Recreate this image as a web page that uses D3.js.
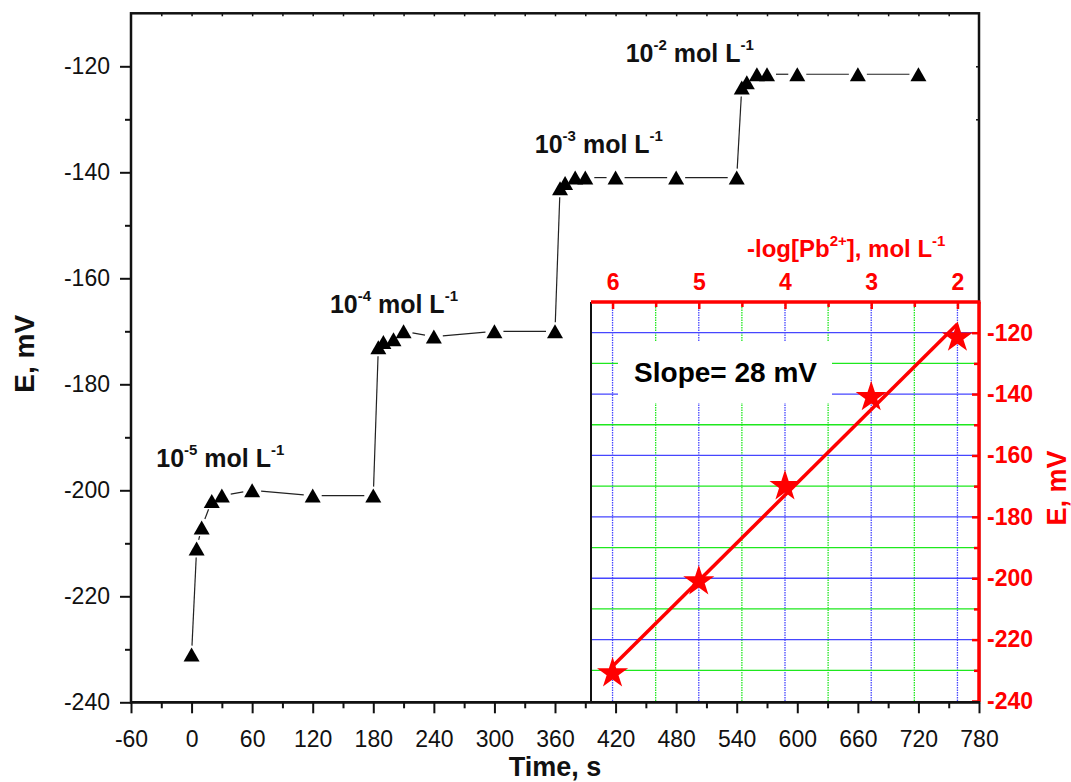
<!DOCTYPE html>
<html>
<head>
<meta charset="utf-8">
<script src="https://cdn.jsdelivr.net/npm/d3@7"></script>
<style>
  html, body { margin: 0; padding: 0; background: #fff; }
  svg { display: block; font-family: "Liberation Sans", Arial, sans-serif; }
</style>
</head>
<body>
<svg id="chart" width="1071" height="782"></svg>
<script>
// ---------------- DATA ----------------
// Main plot: potential-time response
const time = [0, 5, 10, 20, 30, 60, 120, 180,
              185, 190, 200, 210, 240, 300, 360,
              365, 370, 380, 390, 420, 480, 540,
              545, 550, 560, 570, 600, 660, 720];
const potential = [-231, -211, -207, -202, -201, -200, -201, -201,
                   -173, -172, -171.5, -170, -171, -170, -170,
                   -143, -142, -141, -141, -141, -141, -141,
                   -124, -123, -121.5, -121.5, -121.5, -121.5, -121.5];
const timeTicks = [-60, 0, 60, 120, 180, 240, 300, 360, 420, 480, 540, 600, 660, 720, 780];
const potentialTicks = [-240, -220, -200, -180, -160, -140, -120];
const concExponents = ["-5", "-4", "-3", "-2"];
// annotation anchors in data units (time, potential)
const concLabelTime = [-35, 137, 340, 430];
const concLabelE = [-195.6, -166.6, -136.4, -119.1];

// Inset: calibration
const pLog = [6, 5, 4, 3, 2];
const pE = [-231, -201, -170, -141, -121.6];
const pLogTicks = [6, 5, 4, 3, 2];
const insetETicks = [-240, -220, -200, -180, -160, -140, -120];
const slopeText = "Slope= 28 mV";

// ---------------- LAYOUT ----------------
const svg = d3.select("#chart");
const M = { left: 131, right: 979, top: 13.3, bottom: 702.3 };
const I = { left: 591, right: 979, top: 302, bottom: 701 };

const x = d3.scaleLinear().domain([-60, 780]).range([M.left, M.right]);
const y = d3.scaleLinear().domain([-240, -110]).range([M.bottom, M.top]);
const xi = d3.scaleLinear().domain([6.25, 1.75]).range([I.left, I.right]);
const yi = d3.scaleLinear().domain([-240, -110]).range([I.bottom, I.top]);

const FONT = "'Liberation Sans', Arial, sans-serif";
const fmt = d => String(d);

// ---------------- MAIN FRAME ----------------
svg.append("rect")
  .attr("x", M.left).attr("y", M.top)
  .attr("width", M.right - M.left).attr("height", M.bottom - M.top)
  .attr("fill", "none").attr("stroke", "#111").attr("stroke-width", 2.5);

function styleAxis(g, color, sw) {
  g.select(".domain").remove();
  g.selectAll(".tick line").attr("stroke", color).attr("stroke-width", sw);
}

// left axis (major + minor)
const yMinor = d3.range(-230, -110, 20);
svg.append("g").attr("transform", `translate(${M.left},0)`)
  .call(d3.axisLeft(y).tickValues(yMinor).tickSize(6).tickFormat(""))
  .call(g => styleAxis(g, "#111", 2));
svg.append("g").attr("transform", `translate(${M.left},0)`)
  .call(d3.axisLeft(y).tickValues(potentialTicks).tickSize(11).tickPadding(10).tickFormat(fmt))
  .call(g => styleAxis(g, "#111", 2))
  .call(g => g.selectAll("text").attr("font-size", 23).attr("font-family", FONT).attr("fill", "#111"));

// right & top tiny inward ticks (main)
svg.append("g").attr("transform", `translate(${M.right},0)`)
  .call(d3.axisRight(y).tickValues([-120, -130]).tickSize(-3).tickFormat(""))
  .call(g => styleAxis(g, "#111", 1.5));
svg.append("g").attr("transform", `translate(0,${M.top})`)
  .call(d3.axisTop(x).tickValues(d3.range(-30, 780, 30)).tickSize(-3).tickFormat(""))
  .call(g => styleAxis(g, "#111", 1.5));

// ---------------- MAIN DATA ----------------
const pts = time.map((t, i) => [x(t), y(potential[i])]);
const gap = 9;
const segs = [];
for (let i = 0; i < pts.length - 1; i++) {
  const [x1, y1] = pts[i], [x2, y2] = pts[i + 1];
  const L = Math.hypot(x2 - x1, y2 - y1);
  if (L > 2 * gap + 1) {
    const ux = (x2 - x1) / L, uy = (y2 - y1) / L;
    segs.push([[x1 + ux * gap, y1 + uy * gap], [x2 - ux * gap, y2 - uy * gap]]);
  }
}
svg.append("g").selectAll("line").data(segs).join("line")
  .attr("x1", d => d[0][0]).attr("y1", d => d[0][1])
  .attr("x2", d => d[1][0]).attr("y2", d => d[1][1])
  .attr("stroke", "#222").attr("stroke-width", 1.2);

svg.append("g").selectAll("path").data(pts).join("path")
  .attr("d", "M0,-7 L8,7 L-8,7 Z")
  .attr("transform", d => `translate(${d[0]},${d[1]})`)
  .attr("fill", "#000");

// concentration labels
concExponents.forEach((e, i) => {
  const t = svg.append("text")
    .attr("x", x(concLabelTime[i])).attr("y", y(concLabelE[i]))
    .attr("font-family", FONT).attr("font-weight", "bold").attr("font-size", 25).attr("fill", "#111");
  t.append("tspan").text("10");
  t.append("tspan").attr("dy", -12).attr("font-size", 15).text(e);
  t.append("tspan").attr("dy", 12).text("\u00a0mol L");
  t.append("tspan").attr("dy", -12).attr("font-size", 15).text("-1");
});

// axis titles
svg.append("text")
  .attr("x", (M.left + M.right) / 2).attr("y", 776)
  .attr("text-anchor", "middle").attr("font-family", FONT)
  .attr("font-weight", "bold").attr("font-size", 27).attr("fill", "#111")
  .text("Time, s");
svg.append("text")
  .attr("transform", `translate(34,${(M.top + M.bottom) / 2 - 4}) rotate(-90)`)
  .attr("text-anchor", "middle").attr("font-family", FONT)
  .attr("font-weight", "bold").attr("font-size", 28).attr("fill", "#111")
  .text("E, mV");

// ---------------- INSET ----------------
const inset = svg.append("g");
inset.append("rect")
  .attr("x", I.left).attr("y", I.top)
  .attr("width", I.right - I.left).attr("height", I.bottom - I.top)
  .attr("fill", "#fff");

const BLUE = "#4646ff", GREEN = "#1ee81e";
// vertical grid
const xMajorGrid = pLogTicks;
const xMinorGrid = [5.5, 4.5, 3.5, 2.5];
inset.append("g").selectAll("line").data(xMinorGrid).join("line")
  .attr("x1", d => xi(d)).attr("x2", d => xi(d))
  .attr("y1", I.top).attr("y2", I.bottom)
  .attr("stroke", GREEN).attr("stroke-width", 1.3).attr("stroke-dasharray", "1.5,1");
inset.append("g").selectAll("line").data(xMajorGrid).join("line")
  .attr("x1", d => xi(d)).attr("x2", d => xi(d))
  .attr("y1", I.top).attr("y2", I.bottom)
  .attr("stroke", BLUE).attr("stroke-width", 1.3).attr("stroke-dasharray", "1.5,1");
// horizontal grid
const yMajorGrid = insetETicks.filter(v => v > -240);
const yMinorGrid = d3.range(-230, -120, 20);
inset.append("g").selectAll("line").data(yMinorGrid).join("line")
  .attr("x1", I.left).attr("x2", I.right)
  .attr("y1", d => yi(d)).attr("y2", d => yi(d))
  .attr("stroke", GREEN).attr("stroke-width", 1.3);
inset.append("g").selectAll("line").data(yMajorGrid).join("line")
  .attr("x1", I.left).attr("x2", I.right)
  .attr("y1", d => yi(d)).attr("y2", d => yi(d))
  .attr("stroke", BLUE).attr("stroke-width", 1.3);

// slope label box
inset.append("rect")
  .attr("x", xi(5.937)).attr("y", yi(-123.0))
  .attr("width", xi(3.455) - xi(5.937)).attr("height", yi(-142.9) - yi(-123.0))
  .attr("fill", "#fff");
inset.append("text")
  .attr("x", xi(5.75)).attr("y", yi(-136.1))
  .attr("font-family", FONT).attr("font-weight", "bold").attr("font-size", 28).attr("fill", "#000")
  .text(slopeText);

// regression line
const mx = d3.mean(pLog), my = d3.mean(pE);
const slope = d3.sum(pLog.map((v, i) => (v - mx) * (pE[i] - my))) / d3.sum(pLog.map(v => (v - mx) ** 2));
const icpt = my - slope * mx;
const xs = d3.extent(pLog);
inset.append("line")
  .attr("x1", xi(xs[0])).attr("y1", yi(icpt + slope * xs[0]))
  .attr("x2", xi(xs[1])).attr("y2", yi(icpt + slope * xs[1]))
  .attr("stroke", "#f00").attr("stroke-width", 3.5);

// stars
inset.append("g").selectAll("path").data(pLog).join("path")
  .attr("d", d3.symbol(d3.symbolStar).size(300))
  .attr("transform", (d, i) => `translate(${xi(d)},${yi(pE[i])})`)
  .attr("fill", "#f00");

// inset left border
inset.append("line")
  .attr("x1", I.left).attr("x2", I.left).attr("y1", I.top).attr("y2", M.bottom)
  .attr("stroke", "#111").attr("stroke-width", 2);

// inset top axis (red)
inset.append("g").attr("transform", `translate(0,${I.top})`)
  .call(d3.axisTop(xi).tickValues(xMinorGrid).tickSize(-5).tickFormat(""))
  .call(g => styleAxis(g, "#f00", 2.5));
inset.append("g").attr("transform", `translate(0,${I.top})`)
  .call(d3.axisTop(xi).tickValues(pLogTicks).tickSize(-7).tickPadding(12).tickFormat(fmt))
  .call(g => styleAxis(g, "#f00", 2.5))
  .call(g => g.selectAll("text").attr("font-size", 23).attr("font-weight", "bold")
    .attr("font-family", FONT).attr("fill", "#f00"));
// inset right axis (red)
inset.append("g").attr("transform", `translate(${I.right},0)`)
  .call(d3.axisRight(yi).tickValues(yMinorGrid).tickSize(-5).tickFormat(""))
  .call(g => styleAxis(g, "#f00", 2.5));
inset.append("g").attr("transform", `translate(${I.right},0)`)
  .call(d3.axisRight(yi).tickValues(insetETicks).tickSize(-7).tickPadding(8).tickFormat(fmt))
  .call(g => styleAxis(g, "#f00", 2.5))
  .call(g => g.selectAll("text").attr("font-size", 23).attr("font-weight", "bold")
    .attr("font-family", FONT).attr("fill", "#f00"));

inset.append("line")
  .attr("x1", I.left).attr("x2", I.right + 1.5).attr("y1", I.top).attr("y2", I.top)
  .attr("stroke", "#f00").attr("stroke-width", 3.5);
inset.append("line")
  .attr("x1", I.right).attr("x2", I.right).attr("y1", I.top).attr("y2", I.bottom + 1)
  .attr("stroke", "#f00").attr("stroke-width", 3.5);

// inset axis titles
const tt = inset.append("text")
  .attr("x", 747).attr("y", 256.7)
  .attr("font-family", FONT).attr("font-weight", "bold").attr("font-size", 24).attr("fill", "#f00");
tt.append("tspan").text("-log[Pb");
tt.append("tspan").attr("dy", -11).attr("font-size", 15).text("2+");
tt.append("tspan").attr("dy", 11).text("], mol L");
tt.append("tspan").attr("dy", -11).attr("font-size", 15).text("-1");

inset.append("text")
  .attr("transform", `translate(1066,488) rotate(-90)`)
  .attr("text-anchor", "middle").attr("font-family", FONT)
  .attr("font-weight", "bold").attr("font-size", 27).attr("fill", "#f00")
  .text("E, mV");

// ---------------- MAIN BOTTOM AXIS (on top) ----------------
const xMinor = d3.range(-30, 780, 60);
svg.append("g").attr("transform", `translate(0,${M.bottom})`)
  .call(d3.axisBottom(x).tickValues(xMinor).tickSize(6).tickFormat(""))
  .call(g => styleAxis(g, "#111", 2));
svg.append("g").attr("transform", `translate(0,${M.bottom})`)
  .call(d3.axisBottom(x).tickValues(timeTicks).tickSize(11).tickPadding(17).tickFormat(fmt))
  .call(g => styleAxis(g, "#111", 2))
  .call(g => g.selectAll("text").attr("font-size", 23).attr("font-family", FONT).attr("fill", "#111"));
svg.append("line")
  .attr("x1", M.left - 1).attr("x2", M.right + 1).attr("y1", M.bottom).attr("y2", M.bottom)
  .attr("stroke", "#111").attr("stroke-width", 2.5);
</script>
</body>
</html>
